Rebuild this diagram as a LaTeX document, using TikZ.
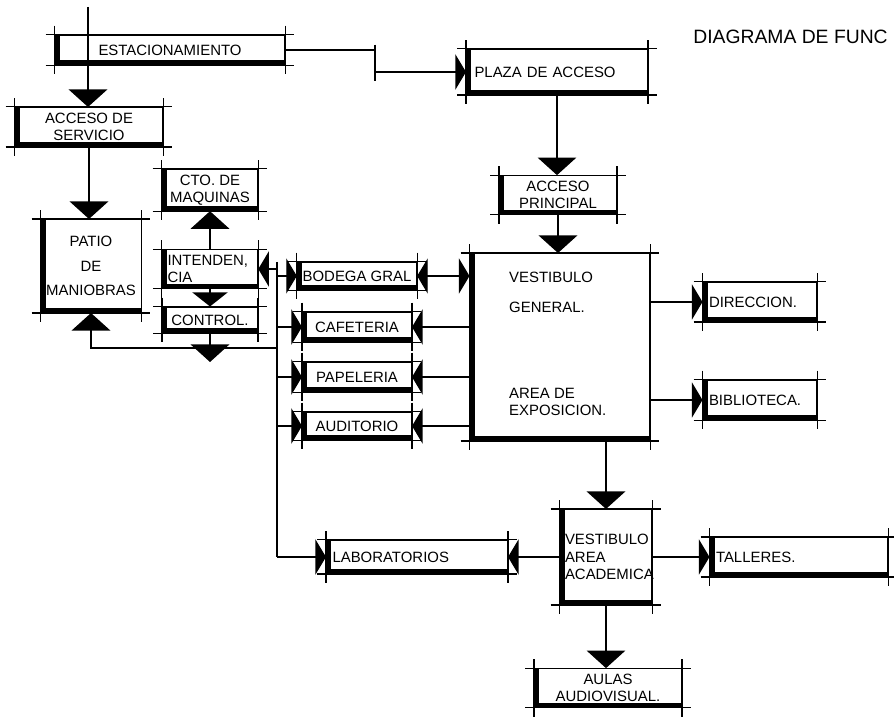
\documentclass[tikz,border=0pt]{standalone}
\usepackage{fontspec}
\setmainfont{Liberation Sans}
\usetikzlibrary{arrows.meta,calc}
\newcommand{\letra}{\fontsize{8.5}{10}\selectfont}

\begin{document}
\begin{tikzpicture}[x=0.02cm, y=-0.02cm,
    caja/.style={draw, line width=0.6pt, inner sep=3pt, font=\letra, align=center},
    trazo/.style={line width=0.6pt},
    sombra/.style={line width=3pt},
    fl/.style={-{Triangle[width=22pt,length=10pt]}, line width=0.7pt},
    fls/.style={-{Triangle[width=20pt,length=6pt]}, line width=0.7pt},
    flss/.style={{Triangle[width=20pt,length=6pt]}-{Triangle[width=20pt,length=6pt]}, line width=0.7pt},
  ]
  \useasboundingbox (0,0) rectangle (894,719);

  % titulo
  \node[font=\fontsize{11}{13}\selectfont, anchor=west, inner sep=0pt] (titulo) at (693,37) {DIAGRAMA DE FUNC};

  % zona de servicio
  \node[caja, minimum width=4.6cm, minimum height=0.6cm] (est) at (170,50) {ESTACIONAMIENTO};
  \node[caja, minimum width=2.96cm, minimum height=0.78cm] (acs) at (89,127) {ACCESO DE\\SERVICIO};
  \node[caja, minimum width=1.84cm, minimum height=1.86cm] (patio) at (91,266)
    {PATIO\\[4pt]DE\\[4pt]MANIOBRAS};
  \node[caja, minimum width=1.92cm, minimum height=0.8cm] (cto) at (210,190) {CTO. DE\\MAQUINAS};
  \node[caja, minimum width=1.9cm, minimum height=0.76cm, align=left, text width=1.7cm] (intend) at (210,269)
    {INTENDEN,\\CIA};
  \node[caja, minimum width=1.9cm, minimum height=0.52cm] (control) at (210,320) {CONTROL.};

  % acceso
  \node[caja, minimum width=3.62cm, minimum height=0.9cm, align=left, text width=3.3cm] (plaza) at (557,72)
    {PLAZA DE ACCESO};
  \node[caja, minimum width=2.34cm, minimum height=0.68cm] (accp) at (558,195) {ACCESO\\PRINCIPAL};

  % servicios junto al vestibulo
  \node[caja, minimum width=2.18cm, minimum height=0.56cm] (bodega) at (357,276) {BODEGA GRAL};
  \node[caja, minimum width=2.18cm, minimum height=0.6cm] (cafe) at (357,327) {CAFETERIA};
  \node[caja, minimum width=2.18cm, minimum height=0.6cm] (pape) at (357,377) {PAPELERIA};
  \node[caja, minimum width=2.18cm, minimum height=0.56cm] (audi) at (357,426) {AUDITORIO};

  % vestibulo general
  \node[caja, minimum width=3.6cm, minimum height=3.74cm] (vest) at (560,347) {};
  \node[font=\letra, anchor=west, align=left] (vgen) at (503,292) {VESTIBULO\\[7pt]GENERAL.};
  \node[font=\letra, anchor=west, align=left] (vexp) at (503,402) {AREA DE\\EXPOSICION.};
  \node[caja, minimum width=2.28cm, minimum height=0.78cm, align=left, text width=2.04cm] (dir) at (760,302)
    {DIRECCION.};
  \node[caja, minimum width=2.28cm, minimum height=0.8cm, align=left, text width=2.04cm] (bib) at (760,400)
    {BIBLIOTECA.};

  % zona academica
  \node[caja, minimum width=1.84cm, minimum height=1.9cm, align=left, text width=1.64cm, inner sep=2pt] (vaca) at (606,557)
    {VESTIBULO\\AREA\\ACADEMICA\\[14pt]};
  \node[caja, minimum width=3.62cm, minimum height=0.66cm, align=left, text width=3.38cm] (labs) at (417,557)
    {LABORATORIOS};
  \node[caja, minimum width=3.56cm, minimum height=0.78cm, align=left, text width=3.32cm] (tall) at (799,557)
    {TALLERES.};
  \node[caja, minimum width=2.94cm, minimum height=0.74cm] (aulas) at (608,688) {AULAS\\AUDIOVISUAL.};

  % trazos de esquina y sombras
  \foreach \n in {est,acs,patio,cto,intend,control,plaza,accp,bodega,cafe,pape,audi,vest,dir,bib,vaca,labs,tall,aulas}{
    \draw[sombra] ([xshift=1.5pt]\n.north west) |- ([yshift=1.5pt]\n.south east);
    \draw[trazo] ([xshift=-5pt]\n.north west) -- ([xshift=5pt]\n.north east);
    \draw[trazo] ([xshift=-5pt]\n.south west) -- ([xshift=5pt]\n.south east);
    \draw[trazo] ([yshift=5pt]\n.north west) -- ([yshift=-5pt]\n.south west);
    \draw[trazo] ([yshift=5pt]\n.north east) -- ([yshift=-5pt]\n.south east);
  }

  % puntos de paso
  \coordinate (ent) at (88,7);
  \coordinate (quiebre) at (375,50);
  \coordinate (b0) at (277,262);
  \coordinate (b9) at (277,557);
  \coordinate (pp) at (277,348);
  \coordinate (ctrl) at (210,362);

  % circulaciones
  \draw[fl] (ent) -- (ent |- acs.north);
  \draw[fl] (acs.south) -- (acs.south |- patio.north);
  \draw[fls] (est.east) -- (quiebre) |- (plaza.west);
  \draw[trazo] ([yshift=3pt]quiebre) -- ([yshift=-5pt]quiebre |- plaza);
  \draw[fl] (plaza.south) -- (plaza.south |- accp.north);
  \draw[fl] (accp.south) -- (accp.south |- vest.north);

  \draw[fl] (intend.north) -- (cto.south);
  \draw[fls, -{Triangle[width=20pt,length=8pt]}] (intend.south) -- (control.north);
  \draw[fl] (control.south) -- (ctrl);

  \draw[trazo] (b0) -- (b9);
  \draw[fl] (pp) -| (patio.south);
  \draw[fls] (b0 |- intend) -- (intend.east);
  \draw[fls] (b0 |- bodega) -- (bodega.west);
  \draw[fls] (b0 |- cafe) -- (cafe.west);
  \draw[fls] (b0 |- pape) -- (pape.west);
  \draw[fls] (b0 |- audi) -- (audi.west);
  \draw[fls] (b9) -- (labs.west);

  \draw[flss] (bodega.east) -- (vest.west |- bodega);
  \draw[fls] (vest.west |- cafe) -- (cafe.east);
  \draw[fls] (vest.west |- pape) -- (pape.east);
  \draw[fls] (vest.west |- audi) -- (audi.east);

  \draw[fls] (vest.east |- dir) -- (dir.west);
  \draw[fls] (vest.east |- bib) -- (bib.west);

  \draw[fl] (vaca.north |- vest.south) -- (vaca.north);
  \draw[fls] (vaca.west) -- (labs.east);
  \draw[fls] (vaca.east) -- (tall.west);
  \draw[fl] (vaca.south) -- (vaca.south |- aulas.north);
\end{tikzpicture}
\end{document}
